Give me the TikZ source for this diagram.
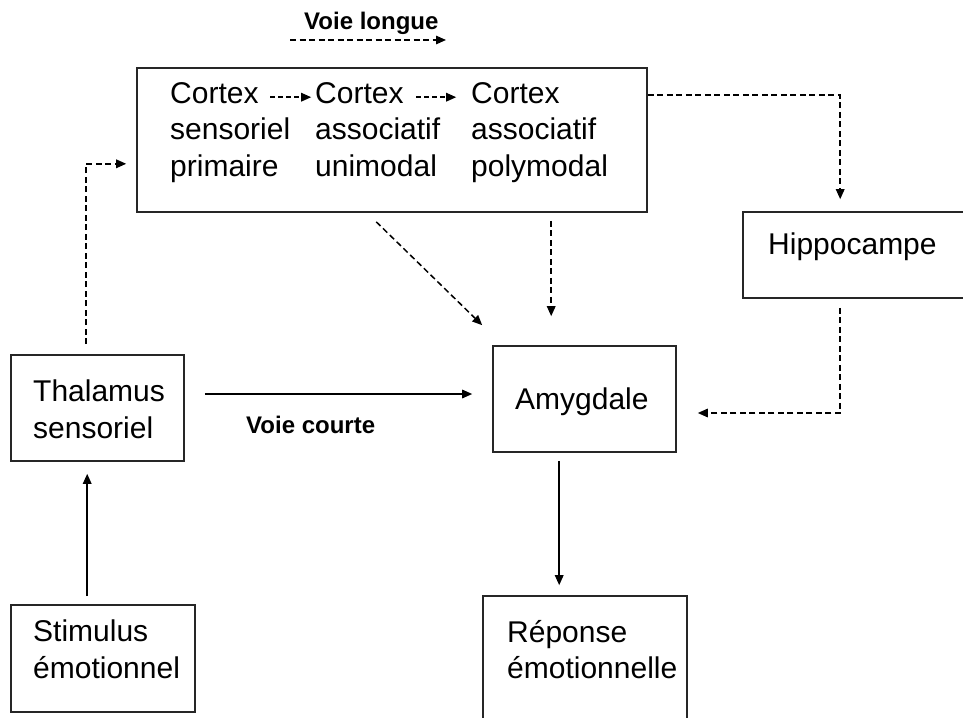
\documentclass[tikz,border=0pt]{standalone}
\usepackage{fontspec}
\setmainfont{Liberation Sans}
\usetikzlibrary{arrows.meta,calc}
\begin{document}
\begin{tikzpicture}[x=1pt,y=-1pt,
  box/.style={draw=black!85,line width=1.6pt,rectangle,inner sep=0pt},
  txt/.style={anchor=north west,inner sep=0pt,align=left,font=\fontsize{30}{36.5}\selectfont},
  lbl/.style={anchor=north west,inner sep=0pt,font=\bfseries\fontsize{24}{28}\selectfont},
  tip/.style={-{Triangle[length=10pt,width=8.5pt]}},
  sar/.style={tip,line width=1.5pt},
  dar/.style={tip,line width=1.5pt,dash pattern=on 6pt off 3.5pt},
  sdar/.style={tip,line width=1.5pt,dash pattern=on 5pt off 3pt}]
\useasboundingbox (0,0) rectangle (963,717);
\clip (0,0) rectangle (963,717);
% boxes
\node[box,minimum width=510pt,minimum height=144pt] (cortex) at (392,140) {};
\node[box,minimum width=232pt,minimum height=86pt] (hip) at (859,255) {};
\node[box,minimum width=183pt,minimum height=106pt] (amyg) at (584.5,399) {};
\node[box,minimum width=173pt,minimum height=106pt] (thal) at (97.5,408) {};
\node[box,minimum width=184pt,minimum height=107pt] (stim) at (103,658.5) {};
\node[box,minimum width=204pt,minimum height=144pt] (rep) at (585,668) {};
% texts
\node[txt] (c1) at (170,82) {Cortex\\sensoriel\\primaire};
\node[txt] (c2) at (315,82) {Cortex\\associatif\\unimodal};
\node[txt] (c3) at (471,82) {Cortex\\associatif\\polymodal};
\node[txt] (thip) at (768,233) {Hippocampe};
\node[txt] (tamyg) at (515,388) {Amygdale};
\node[txt] (tthal) at (33,380) {Thalamus\\sensoriel};
\node[txt] (tstim) at (33,620) {Stimulus\\émotionnel};
\node[txt] (trep) at (507,620) {Réponse\\émotionnelle};
\node[lbl] (vl) at (304,11.5) {Voie longue};
\node[lbl] (vc) at (246,415.5) {Voie courte};
% legend arrow
\coordinate (vla) at (290,40);
\coordinate (vlb) at (446,40);
\draw[dar] (vla) -- (vlb);
% small arrows inside cortex
\draw[sdar] ($(cortex.north west)+(134,30)$) -- ($(cortex.north west)+(175,30)$);
\draw[sdar] ($(cortex.north west)+(280,30)$) -- ($(cortex.north west)+(320,30)$);
% connectors
\draw[dar] ($(cortex.north east)+(0,28)$) -| ($(hip.north west)+(98,-12)$);
\draw[dar] ($(hip.south west)+(98,9)$) |- ($(amyg.east)+(21,14)$);
\draw[dar] ($(cortex.south west)+(415,8)$) -- ($(amyg.north west)+(59,-29)$);
\draw[dar] ($(cortex.south west)+(240,9)$) -- ($(amyg.north west)+(-10,-20)$);
\draw[dar] ($(thal.north west)+(76,-10)$) |- ($(cortex.south west)+(-10,-49)$);
\draw[sar] ($(thal.east)+(20,-14)$) -- ($(amyg.west)+(-20,-5)$);
\draw[sar] ($(stim.north west)+(77,-8)$) -- ($(thal.south west)+(77,12)$);
\draw[sar] ($(amyg.south west)+(67,8)$) -- ($(rep.north west)+(77,-10)$);
\end{tikzpicture}
\end{document}
